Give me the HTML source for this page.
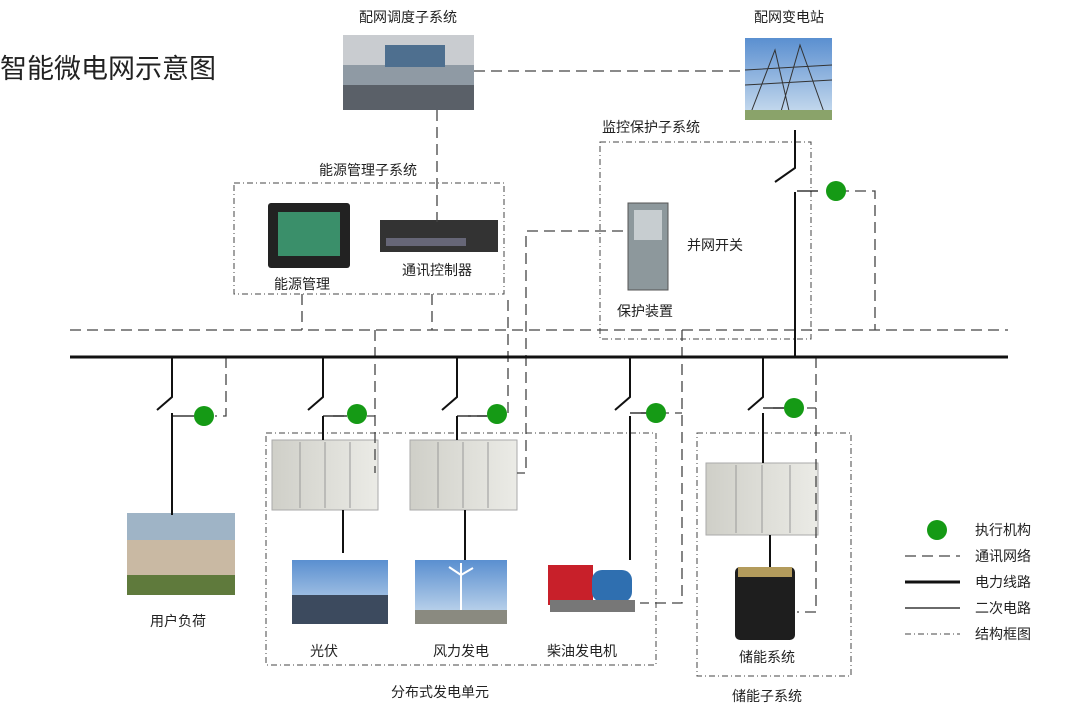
<!DOCTYPE html>
<html><head><meta charset="utf-8"><style>
body{margin:0;background:#fff;}
svg{display:block;font-family:"Liberation Sans","Noto Sans CJK SC",sans-serif;}
</style></head><body>
<svg width="1076" height="720" viewBox="0 0 1076 720" xmlns="http://www.w3.org/2000/svg">
<defs>
<linearGradient id="sky" x1="0" y1="0" x2="0" y2="1"><stop offset="0" stop-color="#5a8fd0"/><stop offset="1" stop-color="#cfe0f0"/></linearGradient>
<linearGradient id="cab" x1="0" y1="0" x2="1" y2="0"><stop offset="0" stop-color="#cfcfc8"/><stop offset="1" stop-color="#ebebe6"/></linearGradient>
</defs>
<text x="0" y="78" font-size="27" fill="#222">智能微电网示意图</text>
<g font-size="14" fill="#222" text-anchor="middle">
<text x="408" y="22">配网调度子系统</text>
<text x="789" y="22">配网变电站</text>
<text x="368" y="175">能源管理子系统</text>
<text x="651" y="132">监控保护子系统</text>
<text x="302" y="289">能源管理</text>
<text x="437" y="275">通讯控制器</text>
<text x="715" y="250">并网开关</text>
<text x="645" y="316">保护装置</text>
<text x="178" y="626">用户负荷</text>
<text x="324" y="656">光伏</text>
<text x="461" y="656">风力发电</text>
<text x="582" y="656">柴油发电机</text>
<text x="440" y="697">分布式发电单元</text>
<text x="767" y="662">储能系统</text>
<text x="767" y="701">储能子系统</text>
</g>
<g font-size="14" fill="#222"><text x="975" y="535">执行机构</text><text x="975" y="561">通讯网络</text><text x="975" y="587">电力线路</text><text x="975" y="613">二次电路</text><text x="975" y="639">结构框图</text></g>
<rect x="343" y="35" width="131" height="75" fill="#8f9aa4"/><rect x="343" y="35" width="131" height="30" fill="#c9ccd0"/><rect x="385" y="45" width="60" height="22" fill="#4e6f8f"/><rect x="343" y="85" width="131" height="25" fill="#5a6068"/>
<rect x="745" y="38" width="87" height="82" fill="url(#sky)"/><path d="M750 115 L775 50 L790 115 M780 115 L800 45 L825 115 M745 70 L832 65 M745 85 L832 80" stroke="#333" fill="none"/><rect x="745" y="110" width="87" height="10" fill="#8aa36a"/>
<rect x="268" y="203" width="82" height="65" rx="3" fill="#222"/><rect x="278" y="212" width="62" height="44" fill="#3a8f6a"/>
<rect x="380" y="220" width="118" height="32" fill="#333"/><rect x="386" y="238" width="80" height="8" fill="#667"/>
<rect x="628" y="203" width="40" height="87" fill="#8d989c" stroke="#555"/><rect x="634" y="210" width="28" height="30" fill="#c7cdd0"/>
<rect x="127" y="513" width="108" height="82" fill="#9fb4c6"/><rect x="127" y="540" width="108" height="55" fill="#c9b9a3"/><rect x="127" y="575" width="108" height="20" fill="#5f7a3c"/>
<g fill="url(#cab)" stroke="#aaa"><rect x="272" y="440" width="106" height="70"/><rect x="410" y="440" width="107" height="70"/><rect x="706" y="463" width="112" height="72"/></g>
<g stroke="#999"><path d="M300 442V508M325 442V508M350 442V508M438 442V508M463 442V508M488 442V508M736 465V533M762 465V533M790 465V533"/></g>
<rect x="292" y="560" width="96" height="64" fill="url(#sky)"/><rect x="292" y="595" width="96" height="29" fill="#3c4a5e"/>
<rect x="415" y="560" width="92" height="64" fill="url(#sky)"/><path d="M461 575V624M461 575l-12-8M461 575l12-7M461 575l0 -12" stroke="#fff" stroke-width="2"/><rect x="415" y="610" width="92" height="14" fill="#8a8a80"/>
<rect x="548" y="565" width="45" height="40" fill="#c8202a"/><rect x="592" y="570" width="40" height="32" rx="10" fill="#2f6fb0"/><rect x="550" y="600" width="85" height="12" fill="#777"/>
<rect x="735" y="567" width="60" height="73" rx="5" fill="#1e1e1e"/><rect x="738" y="567" width="54" height="10" fill="#b39b5c"/>
<g fill="none" stroke="#444" stroke-width="1" stroke-dasharray="6,3,1,3">
<rect x="234" y="183" width="270" height="111"/><rect x="600" y="142" width="211" height="197"/><rect x="266" y="433" width="390" height="232"/><rect x="697" y="433" width="154" height="243"/>
<line x1="905" y1="634" x2="960" y2="634"/>
</g>
<g fill="none" stroke="#444" stroke-width="1.3" stroke-dasharray="11,6">
<path d="M474 71H745M437 110V222M70 330H1008M302 294V330M432 294V330"/>
<path d="M623 231H526V473H517"/>
<path d="M838 191H875V330"/>
<path d="M226 357V416H215M375 330V473M333 416H375M508 300V416H468M682 330V603H640M641 413H682M816 357V612H797M773 408H816"/>
<line x1="905" y1="556" x2="960" y2="556"/>
</g>
<g stroke="#111" fill="none">
<line x1="70" y1="357" x2="1008" y2="357" stroke-width="3"/>
<line x1="905" y1="582" x2="960" y2="582" stroke-width="3"/>
<g stroke-width="2">
<path d="M795 130V168L775 182M795 192V357"/>
<path d="M172 357V397L157 410M172 413V515"/>
<path d="M323 357V397L308 410M323 416V440M343 510V553"/>
<path d="M457 357V397L442 410M457 416V440M465 510V560"/>
<path d="M630 357V397L615 410M630 416V560"/>
<path d="M763 357V397L748 410M763 413V463M770 535V567"/>
</g>
<g stroke-width="1.2"><path d="M797 191H818M172 416H194M323 416H347M457 416H487M630 413H646M763 408H784"/><line x1="905" y1="608" x2="960" y2="608"/></g>
</g>
<g fill="#159a15">
<circle cx="204" cy="416" r="10"/><circle cx="357" cy="414" r="10"/><circle cx="497" cy="414" r="10"/><circle cx="656" cy="413" r="10"/><circle cx="794" cy="408" r="10"/><circle cx="836" cy="191" r="10"/><circle cx="937" cy="530" r="10"/>
</g>
</svg>
</body></html>
